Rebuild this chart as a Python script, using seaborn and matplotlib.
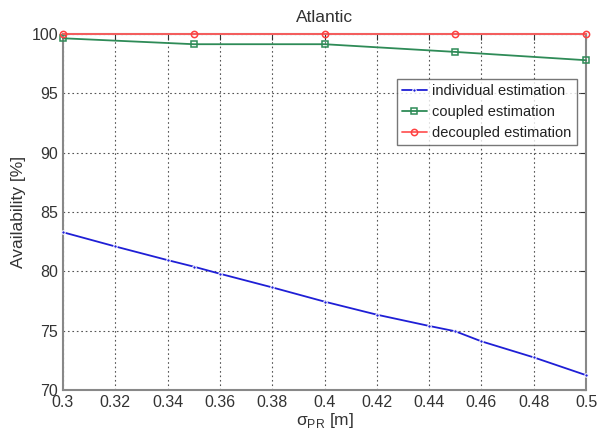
import matplotlib
matplotlib.use("Agg")
import matplotlib.pyplot as plt
import seaborn as sns
import pandas as pd

x_ind = [0.30, 0.32, 0.34, 0.35, 0.36, 0.38, 0.40, 0.42, 0.44, 0.45, 0.46, 0.48, 0.50]
y_ind = [83.3, 82.1, 80.95, 80.4, 79.8, 78.65, 77.45, 76.35, 75.4, 74.95, 74.1, 72.75, 71.25]
x_cd = [0.30, 0.35, 0.40, 0.45, 0.50]
y_coupled = [99.65, 99.15, 99.15, 98.5, 97.8]
y_decoupled = [100.0, 100.0, 100.0, 100.0, 100.0]
labels = ["individual estimation", "coupled estimation", "decoupled estimation"]
xticks = [0.3, 0.32, 0.34, 0.36, 0.38, 0.4, 0.42, 0.44, 0.46, 0.48, 0.5]
xticklabels = ["0.3", "0.32", "0.34", "0.36", "0.38", "0.4", "0.42", "0.44", "0.46", "0.48", "0.5"]
yticks = [70, 75, 80, 85, 90, 95, 100]

sns.set_style("white")
plt.rcParams["font.family"] = ["Liberation Sans", "DejaVu Sans"]
plt.rcParams["mathtext.fontset"] = "custom"
plt.rcParams["mathtext.rm"] = "Liberation Sans"

fig = plt.figure(figsize=(6.08, 4.32), dpi=100)
ax = fig.add_axes([0.1036, 0.0972, 0.8604, 0.8238])

df_ind = pd.DataFrame({"x": x_ind, "y": y_ind})
df_c = pd.DataFrame({"x": x_cd, "y": y_coupled})
df_d = pd.DataFrame({"x": x_cd, "y": y_decoupled})

sns.lineplot(data=df_ind, x="x", y="y", ax=ax, color="#1f1fd6", marker=".", markersize=5,
             linewidth=1.3, label=labels[0], clip_on=False, zorder=5)
sns.lineplot(data=df_c, x="x", y="y", ax=ax, color="#2e8b57", marker="s", markersize=5,
             markerfacecolor="none", markeredgecolor="#2e8b57", markeredgewidth=1.1,
             linewidth=1.3, label=labels[1], clip_on=False, zorder=5)
sns.lineplot(data=df_d, x="x", y="y", ax=ax, color="#ff5a5a", marker="o", markersize=4.5,
             markerfacecolor="none", markeredgecolor="#ff4040", markeredgewidth=1.1,
             linewidth=1.3, label=labels[2], clip_on=False, zorder=6)

ax.set_xlim(0.3, 0.5)
ax.set_ylim(70, 100)
ax.set_xticks(xticks)
ax.set_xticklabels(xticklabels)
ax.set_yticks(yticks)
ax.tick_params(axis="both", labelsize=11.5, length=4, direction="in", colors="#333333",
               labelcolor="#333333", top=True, right=True)
ax.grid(True, linestyle=(0, (1.5, 2.5)), color="#555555", linewidth=0.8)
for s in ax.spines.values():
    s.set_color("#888888")
    s.set_linewidth(1.5)

ax.set_title("Atlantic", fontsize=12.5, color="#333333", pad=9)
ax.set_xlabel(r"σ$_{\mathrm{PR}}$ [m]", fontsize=12.5, color="#333333", labelpad=1)
ax.set_ylabel("Availability [%]", fontsize=12.5, color="#333333", labelpad=4)

leg = ax.legend(loc="upper left", bbox_to_anchor=(0.638, 0.875), fontsize=10.5,
                frameon=True, fancybox=False, borderpad=0.35, handlelength=1.7,
                handletextpad=0.4, labelspacing=0.5, borderaxespad=0)
leg.get_frame().set_edgecolor("#555555")
leg.get_frame().set_linewidth(1.0)
leg.set_zorder(10)
for t in leg.get_texts():
    t.set_color("#222222")

fig.savefig("out.png", dpi=100)
